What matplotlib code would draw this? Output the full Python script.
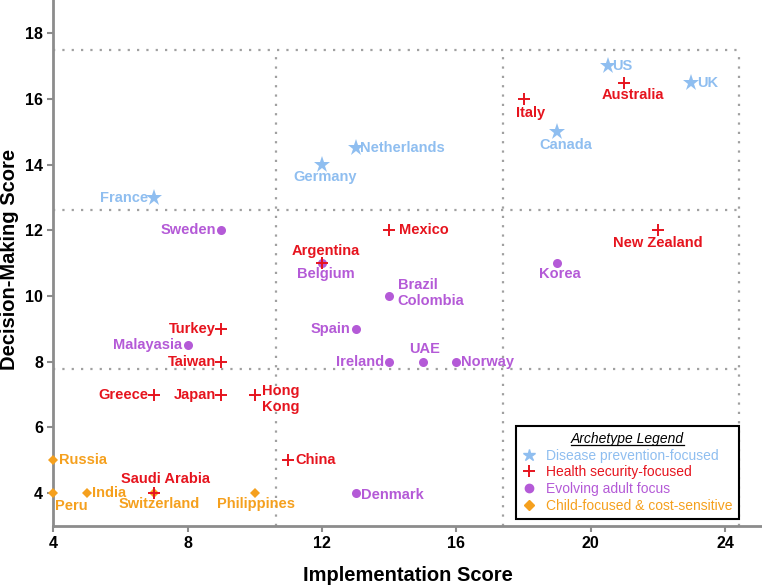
import matplotlib
matplotlib.use('Agg')
import matplotlib.pyplot as plt
from matplotlib.lines import Line2D

plt.rcParams['font.family'] = ['Liberation Sans', 'DejaVu Sans']

# ------------------------------------------------------------
# Data (implementation score, decision-making score)
# ------------------------------------------------------------
disease_names = ['France', 'Germany', 'Netherlands', 'US', 'UK', 'Canada']
disease_x = [7, 12, 13, 20.5, 23, 19]
disease_y = [13, 14, 14.5, 17, 16.5, 15]

security_names = ['Australia', 'Italy', 'Mexico', 'New Zealand', 'Argentina', 'Turkey',
                  'Taiwan', 'Greece', 'Japan', 'Hong\nKong', 'China', 'Saudi Arabia']
security_x = [21, 18, 14, 22, 12, 9, 9, 7, 9, 10, 11, 7]
security_y = [16.5, 16, 12, 12, 11, 9, 8, 7, 7, 7, 5, 4]

adult_names = ['Sweden', 'Belgium', 'Korea', 'Brazil\nColombia', 'Spain', 'Malayasia',
               'Ireland', 'UAE', 'Norway', 'Denmark']
adult_x = [9, 12, 19, 14, 13, 8, 14, 15, 16, 13]
adult_y = [12, 11, 11, 10, 9, 8.5, 8, 8, 8, 4]

child_names = ['Russia', 'Peru', 'India', 'Switzerland', 'Philippines']
child_x = [4, 4, 5, 7, 10]
child_y = [5, 4, 4, 4, 4]

legend_labels = ['Disease prevention-focused', 'Health security-focused',
                 'Evolving adult focus', 'Child-focused & cost-sensitive']

# quadrant grid (dotted)
x_cuts = [10.62, 17.38, 24.41]
y_cuts = [7.77, 12.63, 17.5]

# ------------------------------------------------------------
# Label placement: (dx, dy) in points, ha, va
# ------------------------------------------------------------
L = (-4, 0, 'right', 'center')
place = {
    'France': L, 'Germany': (2, -4, 'center', 'top'), 'Netherlands': (3, 0, 'left', 'center'),
    'US': (3, 0, 'left', 'center'), 'UK': (4, 0, 'left', 'center'),
    'Canada': (6, -4, 'center', 'top'),
    'Australia': (6, -4, 'center', 'top'), 'Italy': (5, -5, 'center', 'top'),
    'Mexico': (7, 0, 'left', 'center'), 'New Zealand': (0, -4, 'center', 'top'),
    'Argentina': (3, 4, 'center', 'bottom'), 'Turkey': L, 'Taiwan': L, 'Greece': L,
    'Japan': L, 'Hong\nKong': (5, -3, 'left', 'center'), 'China': (5, 0, 'left', 'center'),
    'Saudi Arabia': (8, 5, 'center', 'bottom'),
    'Sweden': L, 'Belgium': (3, -3, 'center', 'top'), 'Korea': (2, -3, 'center', 'top'),
    'Brazil\nColombia': (6, 2, 'left', 'center'), 'Spain': L, 'Malayasia': L,
    'Ireland': L, 'UAE': (1, 4, 'center', 'bottom'), 'Norway': (3, 0, 'left', 'center'),
    'Denmark': (4, -1, 'left', 'center'),
    'Russia': (4, 0, 'left', 'center'), 'Peru': (1, -4, 'left', 'top'),
    'India': (4, 0, 'left', 'center'), 'Switzerland': (4, -3, 'center', 'top'),
    'Philippines': (1, -3, 'center', 'top'),
}

c_blue = '#8fbef0'
c_red = '#e6141e'
c_purple = '#b45ad7'
c_orange = '#f5a01e'

fig = plt.figure(figsize=(7.62, 5.87), dpi=100)
ax = fig.add_axes([0.07, 0.104, 0.93, 0.896])

# dotted quadrant lines
for yc in y_cuts:
    ax.plot([4, x_cuts[-1]], [yc, yc], color='#a0a0a0', lw=1.6, ls=(0, (1, 3.2)), zorder=1)
for xc in x_cuts:
    ax.plot([xc, xc], [3, y_cuts[-1]], color='#a0a0a0', lw=1.6, ls=(0, (1, 3.2)), zorder=1)

groups = [
    (disease_names, disease_x, disease_y, c_blue, '*', 12.5),
    (adult_names, adult_x, adult_y, c_purple, 'o', 6.5),
    (child_names, child_x, child_y, c_orange, 'D', 5.5),
    (security_names, security_x, security_y, c_red, '+', 9),
]

for names, xs, ys, col, mk, ms in groups:
    ax.plot(xs, ys, ls='none', marker=mk, color=col, markersize=ms,
            markeredgewidth=1.4 if mk == '+' else 0, clip_on=False, zorder=3)
    for n, x, y in zip(names, xs, ys):
        dx, dy, ha, va = place[n]
        ax.annotate(n, (x, y), xytext=(dx, dy), textcoords='offset points',
                    ha=ha, va=va, color=col, fontsize=10.5, fontweight='bold',
                    linespacing=1.2, zorder=4)

ax.set_xlim(4, 25.1)
ax.set_ylim(3, 19.02)
ax.set_xticks([4, 8, 12, 16, 20, 24])
ax.set_yticks([4, 6, 8, 10, 12, 14, 16, 18])

for s in ['top', 'right']:
    ax.spines[s].set_visible(False)
for s in ['left', 'bottom']:
    ax.spines[s].set_color('#8c8c8c')
    ax.spines[s].set_linewidth(2)
ax.tick_params(color='#8c8c8c', width=1.5, length=4, labelsize=11.5)
for lab in ax.get_xticklabels() + ax.get_yticklabels():
    lab.set_fontweight('bold')

ax.set_xlabel('Implementation Score', fontsize=14.5, fontweight='bold')
ax.set_ylabel('Decision-Making Score', fontsize=14.5, fontweight='bold')
ax.xaxis.set_label_coords(0.5, -0.077)
ax.yaxis.set_label_coords(-0.048, 0.506)

# Legend
handles = [
    Line2D([], [], ls='none', marker='*', color=c_blue, markersize=9),
    Line2D([], [], ls='none', marker='+', color=c_red, markersize=8, markeredgewidth=1.4),
    Line2D([], [], ls='none', marker='o', color=c_purple, markersize=6),
    Line2D([], [], ls='none', marker='D', color=c_orange, markersize=5),
]
leg = ax.legend(handles, legend_labels, loc='lower right', bbox_to_anchor=(0.967, 0.013),
                labelcolor=[c_blue, c_red, c_purple, c_orange], fontsize=10,
                title='Archetype Legend', title_fontproperties={'style': 'italic', 'size': 10},
                frameon=True, fancybox=False, edgecolor='black', framealpha=1,
                borderpad=0.45, labelspacing=0.2, handlelength=1.0, handletextpad=0.7,
                borderaxespad=0)
leg.get_frame().set_linewidth(1.5)

# underline legend title
fig.canvas.draw()
bb = leg.get_title().get_window_extent()
inv = fig.transFigure.inverted()
(x0, y0), (x1, y1) = inv.transform([[bb.x0, bb.y0], [bb.x1, bb.y0]])
fig.add_artist(Line2D([x0, x1], [y0 + 0.002, y0 + 0.002], color='black', lw=0.9,
                      transform=fig.transFigure))

fig.savefig('out.png', dpi=100)
